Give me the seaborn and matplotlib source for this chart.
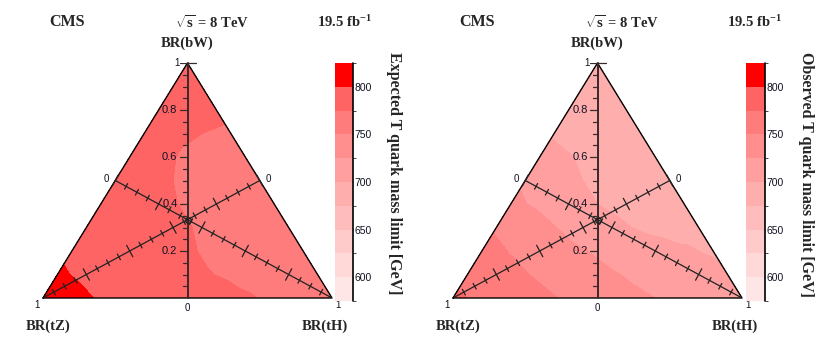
import numpy as np
import matplotlib
matplotlib.use("Agg")
import matplotlib.pyplot as plt
import matplotlib.tri as mtri
from matplotlib.colors import ListedColormap, BoundaryNorm
from matplotlib.cm import ScalarMappable
import seaborn as sns

sns.set_style("white")
plt.rcParams["font.family"] = ["Liberation Sans", "DejaVu Sans"]
plt.rcParams["mathtext.fontset"] = "custom"
plt.rcParams["mathtext.rm"] = "Liberation Serif:bold"
plt.rcParams["mathtext.it"] = "Liberation Serif:bold"
plt.rcParams["mathtext.bf"] = "Liberation Serif:bold"

# BR(bW) rows of the scan, each row lists BR(tH) = 0, 0.1, ... 1-BR(bW)
br_bw = [0.0, 0.1, 0.2, 0.3, 0.4, 0.5, 0.6, 0.7, 0.8, 0.9, 1.0]

# expected T quark mass limit [GeV]
exp_limit = [
    [815, 806, 798, 794, 790, 787, 784, 777, 772, 768, 765],
    [803, 796, 792, 789, 785, 777, 772, 769, 767, 766],
    [796, 792, 789, 786, 777, 771, 768, 766, 765],
    [791, 788, 785, 779, 773, 769, 767, 766],
    [788, 785, 779, 773, 769, 767, 767],
    [785, 780, 775, 771, 768, 768],
    [782, 778, 773, 770, 769],
    [781, 778, 775, 773],
    [782, 780, 778],
    [782, 781],
    [783],
]

# observed T quark mass limit [GeV]
obs_limit = [
    [780, 770, 762, 755, 747, 738, 731, 725, 718, 712, 708],
    [765, 757, 751, 743, 735, 727, 720, 713, 707, 703],
    [757, 749, 741, 731, 722, 713, 706, 702, 698],
    [748, 738, 726, 713, 704, 698, 695, 694],
    [730, 721, 710, 700, 695, 692, 691],
    [722, 712, 700, 694, 691, 690],
    [708, 701, 695, 691, 690],
    [698, 694, 691, 690],
    [693, 691, 690],
    [691, 690],
    [690],
]

levels = [575, 600, 625, 650, 675, 700, 725, 750, 775, 800, 825]
band_colors = ["#ffe6e6", "#ffd8d8", "#ffcaca", "#ffbcbc", "#ffaeae",
               "#ff9f9f", "#ff8e8e", "#ff7c7c", "#ff6464", "#ff0000"]
cbar_ticks = [600, 650, 700, 750, 800]

cmap = ListedColormap(band_colors)
norm = BoundaryNorm(levels, cmap.N)

W, H = 289.0, 235.0   # triangle size in pixels
FW, FH = 830.0, 339.0


def to_xy(bw, th):
    bw = np.asarray(bw, dtype=float)
    th = np.asarray(th, dtype=float)
    return (th + 0.5 * bw) * W, bw * H


def scan_points(table):
    bw, th, z = [], [], []
    for b, row in zip(br_bw, table):
        for k, v in enumerate(row):
            bw.append(b)
            th.append(round(k * 0.1, 2))
            z.append(v)
    x, y = to_xy(bw, th)
    return x, y, np.array(z, dtype=float)


def draw_median(ax, start, end):
    p0, p1 = np.array(start), np.array(end)
    d = (p1 - p0) / np.linalg.norm(p1 - p0)
    n = np.array([-d[1], d[0]])
    ax.plot([p0[0], p1[0]], [p0[1], p1[1]], color="#222222", lw=0.9)
    for i in range(21):
        t = i / 20
        p = p0 + (p1 - p0) * t
        L = 6.5 if i % 4 == 0 else 3.2
        a, b = p - n * L, p + n * L
        ax.plot([a[0], b[0]], [a[1], b[1]], color="#222222", lw=0.9)


def ternary(fig, left, table):
    ax = fig.add_axes([left / FW, (FH - 298) / FH, W / FW, H / FH])
    ax.set_xlim(0, W)
    ax.set_ylim(0, H)
    ax.axis("off")

    x, y, z = scan_points(table)
    tri = mtri.Triangulation(x, y)
    ax.tricontourf(tri, z, levels=levels, cmap=cmap, norm=norm)

    ax.plot([0, W, W / 2, 0], [0, 0, H, 0], color="black", lw=1.0,
            clip_on=False)

    # BR(bW) axis
    ax.plot([W / 2, W / 2], [0, H], color="#3a2a2a", lw=1.4, clip_on=False)
    for i in range(21):
        v = i / 20
        L = 8 if i % 4 == 0 else 4.5
        ax.plot([W / 2 - L, W / 2], [v * H, v * H], color="#3a2a2a", lw=0.9)
        if i % 4 == 0 and 0 < i < 20:
            ax.text(W / 2 - 10, v * H, f"{v:.1f}", ha="right", va="center",
                    fontsize=8, color="#111122")
    ax.plot([W / 2, W / 2 + 8], [H, H], color="#3a2a2a", lw=0.9,
            clip_on=False)
    ax.text(W / 2 - 8, H, "1", ha="right", va="center", fontsize=7,
            color="#111122")
    ax.text(W / 2, -5, "0", ha="center", va="top", fontsize=7,
            color="#111122")

    # BR(tH) and BR(tZ) axes along the medians
    mid_left = to_xy(0.5, 0.0)
    mid_right = to_xy(0.5, 0.5)
    draw_median(ax, mid_left, to_xy(0.0, 1.0))
    draw_median(ax, mid_right, to_xy(0.0, 0.0))
    cx, cy = to_xy(1 / 3, 1 / 3)
    ax.plot(cx, cy, "o", ms=4, mfc="none", mec="#222222", mew=1.0)

    ax.text(mid_left[0] - 6, mid_left[1] + 1, "0", ha="right", va="center",
            fontsize=7, color="#111122")
    ax.text(mid_right[0] + 6, mid_right[1] + 1, "0", ha="left",
            va="center", fontsize=7, color="#111122")
    ax.text(-3, -2, "1", ha="right", va="top", fontsize=7, color="#111122")
    ax.text(W + 3, -2, "1", ha="left", va="top", fontsize=7,
            color="#111122")
    return ax


def colorbar(fig, left, width, label, label_x):
    cax = fig.add_axes([left / FW, (FH - 301) / FH, width / FW, 238 / FH])
    sm = ScalarMappable(norm=norm, cmap=cmap)
    cb = fig.colorbar(sm, cax=cax, ticks=cbar_ticks)
    cb.outline.set_visible(False)
    cax.tick_params(direction="in", length=7, width=1.0, labelsize=7.5,
                    pad=1, colors="#111122")
    cax.plot([1, 1], [0, 1], color="black", lw=1.2,
             transform=cax.transAxes, clip_on=False)
    fig.text(label_x / FW, 1 - 52 / FH, label, rotation=270, ha="center",
             va="top", fontsize=11.5, fontweight="bold",
             family="Liberation Serif")


fig = plt.figure(figsize=(FW / 100, FH / 100), dpi=100)

panels = [
    (43, exp_limit, 335, 18, "Expected T quark mass limit [GeV]", 394),
    (453, obs_limit, 746, 19, "Observed T quark mass limit [GeV]", 806),
]

for x0, table, cb_left, cb_w, label, label_x in panels:
    ternary(fig, x0, table)
    colorbar(fig, cb_left, cb_w, label, label_x)
    serif = dict(fontsize=10.5, fontweight="bold", family="Liberation Serif",
                 va="center")
    fig.text((x0 + 24) / FW, 1 - 22 / FH, "CMS", ha="center",
             **{**serif, "fontsize": 11.5})
    fig.text((x0 + 169) / FW, 1 - 22 / FH, r"$\sqrt{s}$ = 8 TeV",
             ha="center", **serif)
    fig.text((x0 + 301) / FW, 1 - 22 / FH, r"19.5 fb$^{-1}$", ha="center",
             **serif)
    fig.text((x0 + W / 2) / FW, 1 - 43 / FH, "BR(bW)", ha="center", **serif)
    fig.text((x0 + 5) / FW, 1 - 326 / FH, "BR(tZ)", ha="center", **serif)
    fig.text((x0 + 282) / FW, 1 - 326 / FH, "BR(tH)", ha="center", **serif)

fig.savefig("out.png", dpi=100)
